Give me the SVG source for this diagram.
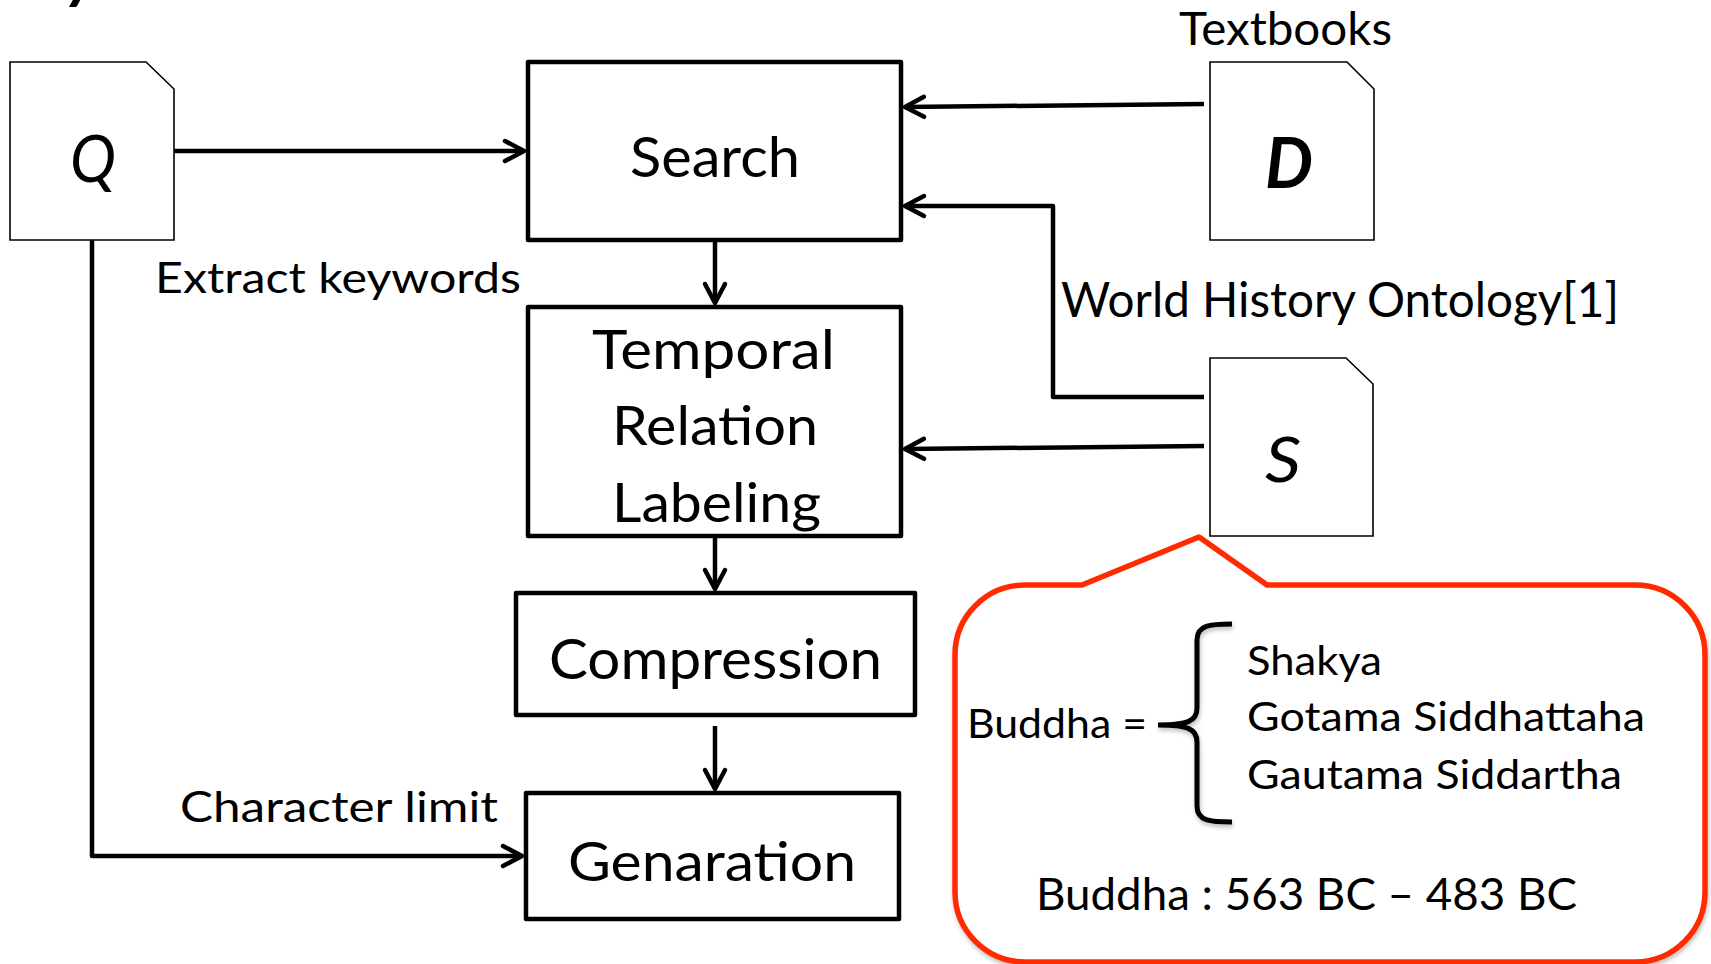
<svg xmlns="http://www.w3.org/2000/svg" width="1711" height="964" viewBox="0 0 1711 964">
<style>
  .t { font-family: Lato, "Open Sans", "Liberation Sans", sans-serif; fill: #000; }
  .box { fill: #fff; stroke: #000; stroke-width: 4.5; stroke-linejoin: round; }
  .doc { fill: #fff; stroke: #000; stroke-width: 1.6; }
  .con { fill: none; stroke: #000; stroke-width: 4.5; stroke-linejoin: round; }
  .red { fill: #fff; stroke: #FF2B06; stroke-width: 5.5; stroke-linejoin: round; }
</style>
<defs>
  <marker id="arr" markerUnits="userSpaceOnUse" markerWidth="30" markerHeight="30" viewBox="-24 -15 30 30" refX="0" refY="0" orient="auto">
    <path d="M-19,-10 L0,0 L-19,10" fill="none" stroke="#000" stroke-width="4.5" stroke-linecap="round" stroke-linejoin="round"/>
  </marker>
  <filter id="sh" x="-5%" y="-5%" width="110%" height="110%">
    <feDropShadow dx="1" dy="3" stdDeviation="2" flood-color="#000" flood-opacity="0.25"/>
  </filter>
</defs>

<text class="t" x="66" y="-3" font-size="64" font-weight="bold" font-style="italic">y</text>

<g id="connectors">
  <line class="con" x1="174" y1="151" x2="524" y2="151" marker-end="url(#arr)"/>
  <line class="con" x1="1204" y1="104" x2="905" y2="107" marker-end="url(#arr)"/>
  <polyline class="con" points="1204,397 1053,397 1053,206 905,206" marker-end="url(#arr)"/>
  <line class="con" x1="1204" y1="446" x2="905" y2="449" marker-end="url(#arr)"/>
  <line class="con" x1="715" y1="240" x2="715" y2="303" marker-end="url(#arr)"/>
  <line class="con" x1="715" y1="536" x2="715" y2="589" marker-end="url(#arr)"/>
  <line class="con" x1="715" y1="726" x2="715" y2="789" marker-end="url(#arr)"/>
  <polyline class="con" points="92,240 92,856 522,856" marker-end="url(#arr)"/>
  <text class="t" x="155" y="293" font-size="43" textLength="366" lengthAdjust="spacingAndGlyphs">Extract keywords</text>
  <text class="t" x="180" y="822" font-size="42" textLength="318" lengthAdjust="spacingAndGlyphs">Character limit</text>
  <text class="t" x="1061" y="317" font-size="48" textLength="558" lengthAdjust="spacingAndGlyphs">World History Ontology[1]</text>
  <text class="t" x="1179" y="45" font-size="46" textLength="213" lengthAdjust="spacingAndGlyphs">Textbooks</text>
</g>

<g id="node-Q">
  <path class="doc" d="M10,62 H146 L174,89 V240 H10 Z"/>
  <text class="t" x="70" y="182" font-size="66" font-style="italic" textLength="46" lengthAdjust="spacingAndGlyphs">Q</text>
</g>

<g id="node-D">
  <path class="doc" d="M1210,62 H1347 L1374,89 V240 H1210 Z"/>
  <text class="t" x="1265" y="188" font-size="70" font-weight="bold" font-style="italic" textLength="48" lengthAdjust="spacingAndGlyphs">D</text>
</g>

<g id="node-S">
  <path class="doc" d="M1210,358 H1346 L1373,384 V536 H1210 Z"/>
  <text class="t" x="1265" y="482" font-size="62" font-style="italic" textLength="36" lengthAdjust="spacingAndGlyphs">S</text>
</g>

<g id="node-search">
  <rect class="box" x="528" y="62" width="373" height="178"/>
  <text class="t" x="630" y="177" font-size="56" textLength="170" lengthAdjust="spacingAndGlyphs">Search</text>
</g>

<g id="node-temporal">
  <rect class="box" x="528" y="307" width="373" height="229"/>
  <text class="t" x="592" y="369" font-size="55" textLength="243" lengthAdjust="spacingAndGlyphs">Temporal</text>
  <text class="t" x="612" y="445" font-size="55" textLength="206" lengthAdjust="spacingAndGlyphs">Relation</text>
  <text class="t" x="612" y="522" font-size="55" textLength="209" lengthAdjust="spacingAndGlyphs">Labeling</text>
</g>

<g id="node-compression">
  <rect class="box" x="516" y="593" width="399" height="122"/>
  <text class="t" x="549" y="679" font-size="56" textLength="333" lengthAdjust="spacingAndGlyphs">Compression</text>
</g>

<g id="node-generation">
  <rect class="box" x="526" y="793" width="373" height="126"/>
  <text class="t" x="568" y="881" font-size="54" textLength="288" lengthAdjust="spacingAndGlyphs">Genaration</text>
</g>

<g id="node-callout">
  <path class="red" filter="url(#sh)" d="M1025,585 L1082,585 L1199,537 L1267,585 L1635,585 A70,70 0 0 1 1705,655 L1705,892 A70,70 0 0 1 1635,962 L1025,962 A70,70 0 0 1 955,892 L955,655 A70,70 0 0 1 1025,585 Z"/>
  <text class="t" x="967" y="738" font-size="41" textLength="180" lengthAdjust="spacingAndGlyphs">Buddha =</text>
  <path d="M1232,624 C1210,624 1197,625 1197,640 L1197,708 C1197,721 1188,725 1158,725 M1158,725 C1188,725 1197,729 1197,742 L1197,806 C1197,821 1210,822 1232,822" fill="none" stroke="#000" stroke-width="5" stroke-linecap="butt" filter="url(#sh)"/>
  <text class="t" x="1247" y="675" font-size="41" textLength="135" lengthAdjust="spacingAndGlyphs">Shakya</text>
  <text class="t" x="1247" y="731" font-size="41" textLength="398" lengthAdjust="spacingAndGlyphs">Gotama Siddhattaha</text>
  <text class="t" x="1247" y="789" font-size="41" textLength="375" lengthAdjust="spacingAndGlyphs">Gautama Siddartha</text>
  <text class="t" x="1036" y="910" font-size="45" textLength="541" lengthAdjust="spacingAndGlyphs">Buddha : 563 BC – 483 BC</text>
</g>
</svg>
